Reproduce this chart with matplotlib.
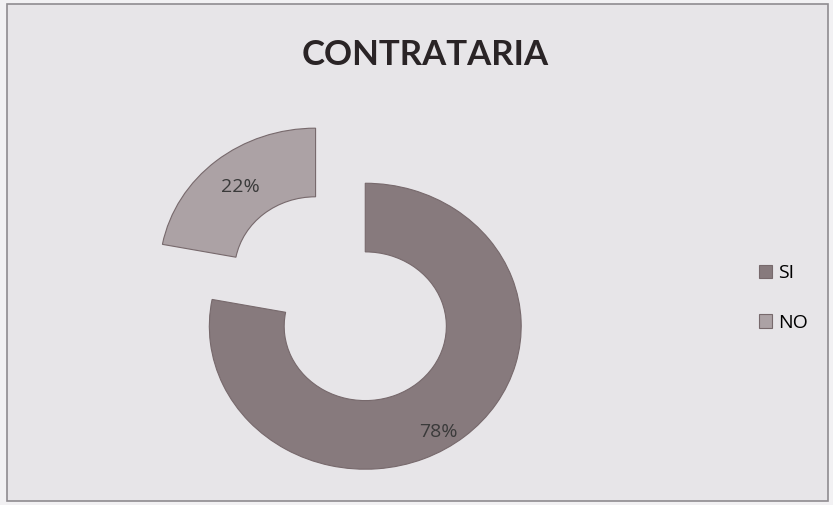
import matplotlib
matplotlib.use("Agg")
import matplotlib.pyplot as plt
from matplotlib.patches import Rectangle

labels = ["SI", "NO"]
values = [78, 22]
colors = ["#877a7d", "#aca2a5"]

fig = plt.figure(figsize=(8.33, 5.05), dpi=100)
fig.patch.set_facecolor("#f2f1f3")

# chart area with thin border, kept behind the pie
fig.patches.append(Rectangle((0.009, 0.008), 0.985, 0.984, transform=fig.transFigure,
                             facecolor="#e7e5e8", edgecolor="#8f8c90", linewidth=1.2,
                             zorder=-10))

ax = fig.add_axes([0.139, -0.099, 0.599, 0.906])
ax.set_zorder(5)
ax.patch.set_visible(False)
wedges, texts, autotexts = ax.pie(
    values, colors=colors, startangle=90, counterclock=False,
    explode=[0, 0.5], autopct="%1.0f%%", pctdistance=0.76,
    wedgeprops=dict(width=0.48, edgecolor="#77696c", linewidth=0.8),
    textprops=dict(color="#3a3a3a", fontsize=14, family="Open Sans"),
)
# the SI label sits a bit lower in the ring
autotexts[0].set_position((0.47, -0.74))
ax.set_aspect("auto")
ax.set_xlim(-1.6, 1.6)
ax.set_ylim(-1.6, 1.6)
ax.axis("off")

fig.text(0.511, 1 - 55 / 505, "CONTRATARIA", ha="center", va="center",
         fontsize=25, fontweight="bold", family="Lato", color="#2a2426")

fig.legend(wedges, labels, loc="center left", bbox_to_anchor=(0.89, 0.41),
           frameon=False, labelspacing=1.6,
           handlelength=0.7, handleheight=0.7, handletextpad=0.3,
           prop=dict(family="Open Sans", size=14))

fig.savefig("out.png", dpi=100, facecolor=fig.get_facecolor())
